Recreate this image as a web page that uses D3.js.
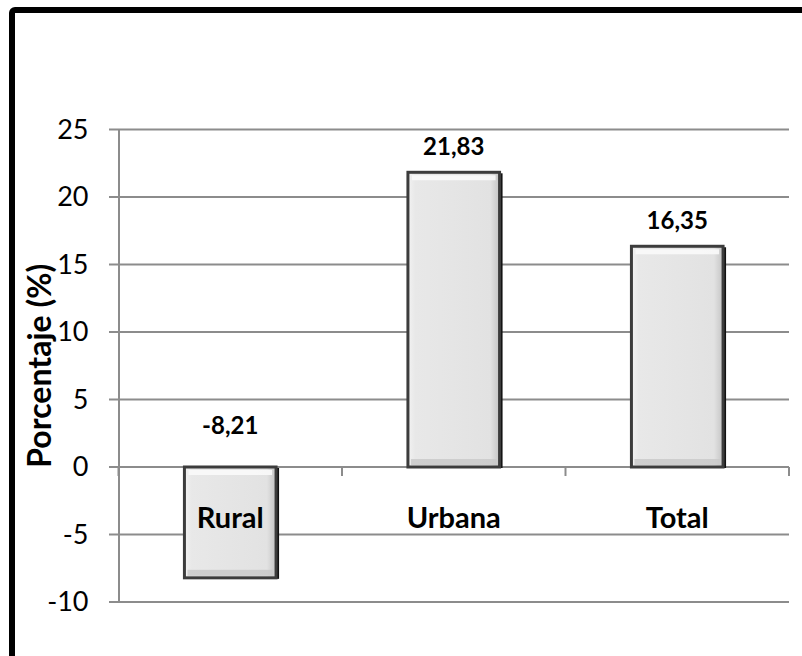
<!DOCTYPE html>
<html><head><meta charset="utf-8">
<script src="https://cdn.jsdelivr.net/npm/d3@7"></script>
<style>html,body{margin:0;padding:0;background:#fff;}svg{display:block;}</style>
</head><body>
<script>
const categories = ["Rural", "Urbana", "Total"];
const values = [-8.21, 21.83, 16.35];
const valueLabels = ["-8,21", "21,83", "16,35"];
const yTicks = [-10, -5, 0, 5, 10, 15, 20, 25];
const yTitle = "Porcentaje (%)";

const W = 802, H = 656;
const svg = d3.select("body").append("svg").attr("width", W).attr("height", H);
const font = "Lato, 'Open Sans', sans-serif";

const defs = svg.append("defs");
const g1 = defs.append("linearGradient").attr("id", "barH").attr("x1", 0).attr("x2", 1).attr("y1", 0).attr("y2", 0);
g1.append("stop").attr("offset", "0").attr("stop-color", "#f2f2f2");
g1.append("stop").attr("offset", "0.08").attr("stop-color", "#e8e8e8");
g1.append("stop").attr("offset", "0.9").attr("stop-color", "#e2e2e2");
g1.append("stop").attr("offset", "1").attr("stop-color", "#c4c4c4");

// frame
svg.append("rect").attr("x", 12).attr("y", 10).attr("width", 830).attr("height", 700)
  .attr("rx", 3).attr("fill", "none").attr("stroke", "#000").attr("stroke-width", 6);

const x = d3.scaleBand().domain(categories).range([118.5, 789]).paddingInner(0.59).paddingOuter(0.295);
const xb = d3.scaleBand().domain(categories).range([118.5, 789]);
const y = d3.scaleLinear().domain([-10, 25]).range([602, 129.5]);

// gridlines
svg.append("g").selectAll("line").data(yTicks).join("line")
  .attr("x1", 109).attr("x2", 789).attr("y1", d => y(d)).attr("y2", d => y(d))
  .attr("stroke", "#8c8c8c").attr("stroke-width", 2);

// y axis
const yAxis = svg.append("g").attr("transform", "translate(118.5,0)")
  .call(d3.axisLeft(y).tickValues(yTicks).tickSize(0).tickPadding(30).tickFormat(d => d));
yAxis.select(".domain").attr("stroke", "#8c8c8c").attr("stroke-width", 2);
yAxis.selectAll("text").attr("font-family", font).attr("font-size", 27).attr("fill", "#000");

// x category ticks on zero line
const bounds = categories.map(c => xb(c)).concat([xb.range()[1]]);
svg.append("g").selectAll("line").data(bounds).join("line")
  .attr("x1", d => d).attr("x2", d => d).attr("y1", y(0)).attr("y2", y(0) + 9)
  .attr("stroke", "#8c8c8c").attr("stroke-width", 2);

// bars
const bars = svg.append("g").selectAll("g").data(categories).join("g");
bars.append("rect") // shadow
  .attr("x", c => x(c) + 3).attr("y", (c, i) => y(Math.max(values[i], 0)) + 1)
  .attr("width", x.bandwidth()).attr("height", (c, i) => Math.abs(y(values[i]) - y(0)))
  .attr("fill", "#111");
bars.append("rect")
  .attr("x", c => x(c)).attr("y", (c, i) => y(Math.max(values[i], 0)))
  .attr("width", x.bandwidth()).attr("height", (c, i) => Math.abs(y(values[i]) - y(0)))
  .attr("fill", "url(#barH)").attr("stroke", "#3c3c3c").attr("stroke-width", 3);
bars.append("rect") // top highlight
  .attr("x", c => x(c) + 4).attr("y", (c, i) => y(Math.max(values[i], 0)) + 3)
  .attr("width", x.bandwidth() - 8).attr("height", 5)
  .attr("fill", "#fafafa").attr("opacity", 0.9);
bars.append("rect") // bottom shade
  .attr("x", c => x(c) + 3).attr("y", (c, i) => y(Math.min(values[i], 0)) - 8)
  .attr("width", x.bandwidth() - 6).attr("height", 6)
  .attr("fill", "#c8c8c8").attr("opacity", 0.8);

// value labels
svg.append("g").selectAll("text").data(categories).join("text")
  .attr("x", c => x(c) + x.bandwidth() / 2)
  .attr("y", (c, i) => values[i] >= 0 ? y(values[i]) - 17 : y(0) - 33)
  .attr("text-anchor", "middle").attr("font-family", font).attr("font-weight", "bold")
  .attr("font-size", 24).attr("fill", "#000").text((c, i) => valueLabels[i]);

// category labels
svg.append("g").selectAll("text").data(categories).join("text")
  .attr("x", c => x(c) + x.bandwidth() / 2).attr("y", 528)
  .attr("text-anchor", "middle").attr("font-family", font).attr("font-weight", "bold")
  .attr("font-size", 29).attr("fill", "#000").text(c => c);

// y title
svg.append("text").attr("transform", `translate(51,${(y(25) + y(-10)) / 2}) rotate(-90)`)
  .attr("text-anchor", "middle").attr("font-family", font).attr("font-weight", "bold")
  .attr("font-size", 32).attr("fill", "#000").text(yTitle);
</script>
</body></html>
